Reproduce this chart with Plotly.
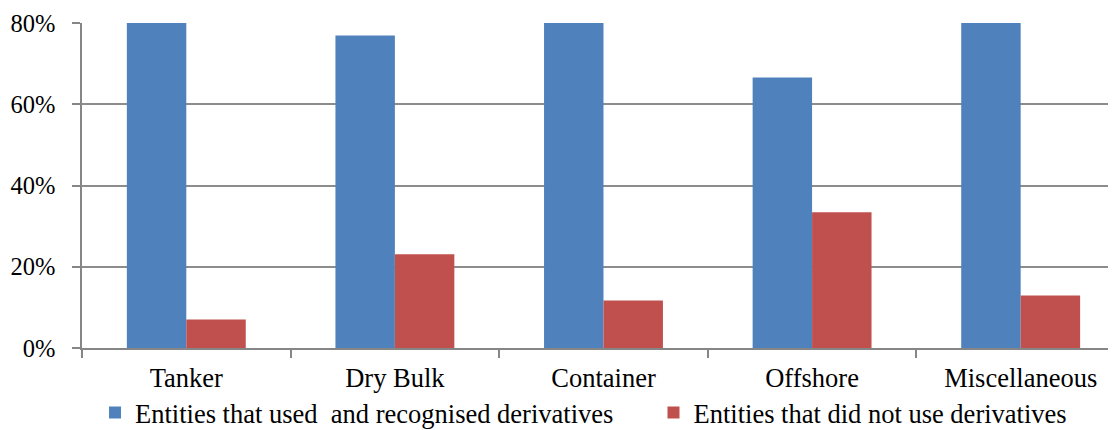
import plotly.graph_objects as go

categories = ["Tanker", "Dry Bulk", "Container", "Offshore", "Miscellaneous"]
used_derivatives = [0.93, 0.769, 0.883, 0.666, 0.871]
no_derivatives = [0.07, 0.231, 0.117, 0.334, 0.129]
y_ticks = [0, 0.2, 0.4, 0.6, 0.8]
y_tick_labels = ["0%", "20%", "40%", "60%", "80%"]

FONT = "Liberation Serif, Times New Roman, serif"
fig = go.Figure()
fig.add_trace(go.Bar(x=categories, y=used_derivatives,
                     name="Entities that used  and recognised derivatives",
                     marker=dict(color="#4F81BD", line=dict(width=0)), legend="legend"))
fig.add_trace(go.Bar(x=categories, y=no_derivatives,
                     name="Entities that did not use derivatives",
                     marker=dict(color="#C0504D", line=dict(width=0)), legend="legend2"))

legend_common = dict(orientation="h", yanchor="middle", xanchor="left", yref="container",
                     font=dict(family=FONT, size=26.5, color="black"),
                     bgcolor="rgba(0,0,0,0)", itemwidth=30)
fig.update_layout(
    width=1108, height=422,
    margin=dict(l=74, r=0, t=15, b=82, autoexpand=False),
    paper_bgcolor="white", plot_bgcolor="white",
    font=dict(family=FONT, size=25, color="black"),
    barmode="group", bargap=0.43, bargroupgap=0,
    showlegend=True,
    legend=dict(x=0.0126, y=0.041, **legend_common),
    legend2=dict(x=0.5527, y=0.041, **legend_common),
)
fig.update_xaxes(range=[-0.5, 4.457], showline=True, linecolor="#868686", linewidth=1.5,
                 ticks="outside", tickson="boundaries", ticklen=8, tickcolor="#868686",
                 tickwidth=1.5, showgrid=False, tickfont=dict(family=FONT, size=26.5),
                 ticklabelstandoff=5)
fig.update_yaxes(range=[0, 0.8], tickvals=y_ticks, ticktext=y_tick_labels,
                 showline=True, linecolor="#868686", linewidth=1.5,
                 ticks="outside", ticklen=8, tickcolor="#868686", tickwidth=1.5,
                 showgrid=True, gridcolor="#8c8c8c", gridwidth=1.5, zeroline=False,
                 tickfont=dict(family=FONT, size=24.5), ticklabelstandoff=12)

fig.write_html("out.html")
